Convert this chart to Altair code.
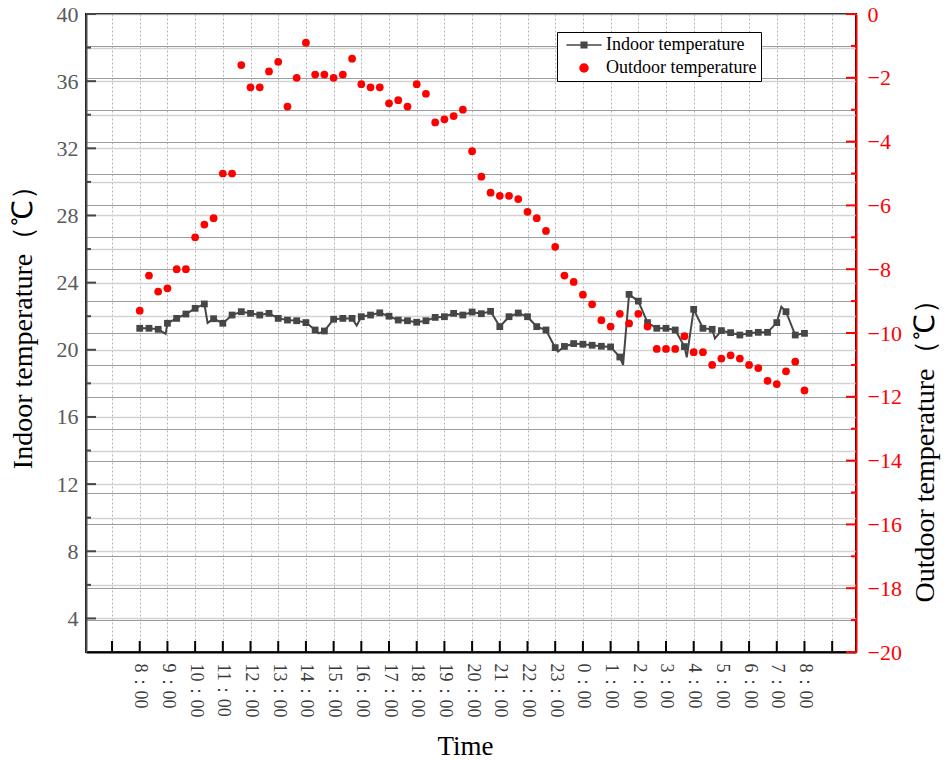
import json
import altair as alt
import pandas as pd

FONT = "Liberation Serif"
GRAY = "#464646"
RED = "#ff0000"

series_names = ["Indoor temperature", "Outdoor temperature"]

hour_labels = ["8：00", "9：00", "10：00", "11：00", "12：00", "13：00", "14：00",
               "15：00", "16：00", "17：00", "18：00", "19：00", "20：00", "21：00",
               "22：00", "23：00", "0：00", "1：00", "2：00", "3：00", "4：00",
               "5：00", "6：00", "7：00", "8：00"]
tick_hours = list(range(-1, 26))          # hours after 8:00 (7:00 ... 9:00)

# samples every 20 minutes from 8:00 to 8:00 next day
sample_minutes = list(range(0, 24 * 60 + 1, 20))

indoor_values = [
    21.28, 21.28, 21.22, 21.58, 21.87, 22.13, 22.47, 22.73, 21.85, 21.58,
    22.07, 22.27, 22.17, 22.07, 22.17, 21.87, 21.77, 21.73, 21.62, 21.18,
    21.12, 21.82, 21.87, 21.87, 21.97, 22.07, 22.20, 22.00, 21.77, 21.73,
    21.64, 21.73, 21.93, 21.97, 22.17, 22.07, 22.25, 22.15, 22.29, 21.38,
    21.97, 22.19, 21.97, 21.38, 21.18, 20.13, 20.20, 20.37, 20.33, 20.27,
    20.21, 20.17, 19.57, 23.30, 22.90, 21.62, 21.28, 21.28, 21.18, 20.19,
    22.41, 21.28, 21.22, 21.14, 21.02, 20.88, 20.98, 21.04, 21.04, 21.62,
    22.27, 20.88, 20.98]

# extra points of the indoor curve between markers (dips and spikes)
indoor_extra_minutes = [56, 147, 388, 470, 906, 1047, 1185, 1246, 1390]
indoor_extra_values = [20.95, 21.60, 20.98, 21.45, 19.90, 19.10, 19.55, 20.68, 22.57]

outdoor_values = [
    -9.3, -8.2, -8.7, -8.6, -8.0, -8.0, -7.0, -6.6, -6.4, -5.0,
    -5.0, -1.6, -2.3, -2.3, -1.8, -1.5, -2.9, -2.0, -0.9, -1.9,
    -1.9, -2.0, -1.9, -1.4, -2.2, -2.3, -2.3, -2.8, -2.7, -2.9,
    -2.2, -2.5, -3.4, -3.3, -3.2, -3.0, -4.3, -5.1, -5.6, -5.7,
    -5.7, -5.8, -6.2, -6.4, -6.8, -7.3, -8.2, -8.4, -8.8, -9.1,
    -9.6, -9.8, -9.4, -9.7, -9.4, -9.8, -10.5, -10.5, -10.5, -10.1,
    -10.6, -10.6, -11.0, -10.8, -10.7, -10.8, -11.0, -11.1, -11.5, -11.6,
    -11.2, -10.9, -11.8]

left_grid_values = list(range(2, 41, 2))
left_major = list(range(4, 41, 4))
left_minor = list(range(6, 39, 4))
right_grid_values = list(range(-20, 1))
right_major = list(range(-20, 1, 2))
right_minor = list(range(-19, 0, 2))

W, H = 770, 638

df_markers = pd.DataFrame({"t": [m / 60 for m in sample_minutes], "v": indoor_values})
df_line = pd.concat([
    df_markers,
    pd.DataFrame({"t": [m / 60 for m in indoor_extra_minutes], "v": indoor_extra_values}),
]).sort_values("t").reset_index(drop=True)
df_out = pd.DataFrame({"t": [m / 60 for m in sample_minutes], "v": outdoor_values})
df_series = pd.DataFrame({"series": series_names})

label_expr = ("datum.value >= 0 && datum.value <= 24 ? "
              + json.dumps(hour_labels, ensure_ascii=False) + "[datum.value] : ''")

x_axis = alt.Axis(values=tick_hours, labelExpr=label_expr, labelAngle=90,
                  labelAlign="left", labelBaseline="middle", labelFont=FONT,
                  labelFontSize=18, labelColor="#3a3a3a", labelPadding=11,
                  labelFlush=False, labelOverlap=False, ticks=False, tickSize=0,
                  domainColor="#000000", domainWidth=2, grid=True, gridDash=[2, 2],
                  gridColor="#b4b4b4", gridWidth=1, title="Time", titleFont=FONT,
                  titleFontSize=27, titleFontWeight="normal", titleColor="#000000",
                  titleX=379, titleY=94, titleAlign="center", titleBaseline="middle")
x_scale = alt.Scale(domain=[-1.94, 25.86], nice=False, zero=False)

yl_axis = alt.Axis(orient="left", values=left_grid_values,
                   labelExpr="datum.value % 4 == 0 ? datum.label : ''",
                   labelFont=FONT, labelFontSize=22, labelColor="#5a5a5a",
                   labelPadding=8, labelFlush=False, labelOverlap=False,
                   ticks=False, tickSize=0, domainColor="#505050", domainWidth=2,
                   grid=True, gridColor="#d2d2d2", gridWidth=1.3,
                   title="Indoor temperature（℃）", titleFont=FONT, titleFontSize=28,
                   titleFontWeight="normal", titleColor="#000000", titleAngle=270,
                   titleX=-63, titleY=306, titleAlign="center", titleBaseline="middle")
yl_scale = alt.Scale(domain=[2, 40], nice=False, zero=False)

yr_axis = alt.Axis(orient="right", values=right_grid_values,
                   labelExpr="datum.value % 2 == 0 ? datum.label : ''",
                   labelFont=FONT, labelFontSize=22, labelColor=RED,
                   labelPadding=11, labelFlush=False, labelOverlap=False,
                   ticks=False, tickSize=0, domainColor=RED, domainWidth=2,
                   grid=True, gridColor="#9c9c9c", gridWidth=1,
                   title="Outdoor temperature（℃）", titleFont=FONT, titleFontSize=28,
                   titleFontWeight="normal", titleColor="#000000", titleAngle=270,
                   titleX=69, titleY=430, titleAlign="center", titleBaseline="middle")
yr_scale = alt.Scale(domain=[-20, 0], nice=False, zero=False)


def X(field):
    return alt.X(f"{field}:Q", scale=x_scale, axis=x_axis)


def YL(field):
    return alt.Y(f"{field}:Q", scale=yl_scale, axis=yl_axis)


def YR(field):
    return alt.Y(f"{field}:Q", scale=yr_scale, axis=yr_axis)


indoor_path = "M-4.4,0H4.4M-0.7,-0.7H0.7V0.7H-0.7Z"
leg = alt.Legend(title=None, orient="none", legendX=471, legendY=18,
                 labelFont=FONT, labelFontSize=18, labelColor="#000000",
                 strokeColor="#000000", fillColor="#ffffff", padding=4,
                 symbolSize=64, symbolStrokeWidth=1.5, symbolOffset=14,
                 labelOffset=13, rowPadding=5, symbolOpacity=1)
series_scale = alt.Scale(domain=series_names, range=[GRAY, RED])

indoor_line = alt.Chart(df_line).mark_line(color=GRAY, strokeWidth=2).encode(
    x=X("t"), y=YL("v"))
indoor_pts = alt.Chart(df_markers).mark_point(
    shape="square", filled=True, size=46, color=GRAY, opacity=1).encode(
    x=X("t"), y=YL("v"))
lt_major = alt.Chart(pd.DataFrame({"v": left_major})).mark_rule(
    color=GRAY, strokeWidth=2).encode(y=YL("v"), x=alt.value(0), x2=alt.value(10))
lt_minor = alt.Chart(pd.DataFrame({"v": left_minor})).mark_rule(
    color=GRAY, strokeWidth=2).encode(y=YL("v"), x=alt.value(0), x2=alt.value(5))
bt_ticks = alt.Chart(pd.DataFrame({"t": tick_hours})).mark_rule(
    color="#000000", strokeWidth=2).encode(x=X("t"), y=alt.value(H), y2=alt.value(H - 11))
legend_layer = alt.Chart(df_series).mark_point(filled=True, opacity=0).encode(
    x=alt.value(0), y=alt.value(0),
    color=alt.Color("series:N", scale=series_scale, legend=leg),
    stroke=alt.Stroke("series:N", scale=series_scale, legend=leg),
    shape=alt.Shape("series:N", scale=alt.Scale(domain=series_names,
                                                range=[indoor_path, "circle"]),
                    legend=leg))

outdoor_pts = alt.Chart(df_out).mark_circle(color=RED, size=60, opacity=1).encode(
    x=X("t"), y=YR("v"))
rt_major = alt.Chart(pd.DataFrame({"v": right_major})).mark_rule(
    color=RED, strokeWidth=2).encode(y=YR("v"), x=alt.value(W), x2=alt.value(W - 10))
rt_minor = alt.Chart(pd.DataFrame({"v": right_minor})).mark_rule(
    color=RED, strokeWidth=2).encode(y=YR("v"), x=alt.value(W), x2=alt.value(W - 5))

group_left = alt.layer(indoor_line, indoor_pts, lt_major, lt_minor, bt_ticks, legend_layer)
group_right = alt.layer(outdoor_pts, rt_major, rt_minor)

chart = alt.layer(group_left, group_right).resolve_scale(y="independent").properties(
    width=W, height=H,
    autosize=alt.AutoSizeParams(type="none"),
    padding={"left": 86, "top": 14, "right": 88, "bottom": 109},
    background="#ffffff",
).configure_view(stroke="#000000", strokeWidth=2)

chart.save("out.html", embed_options={"renderer": "svg", "actions": False})
